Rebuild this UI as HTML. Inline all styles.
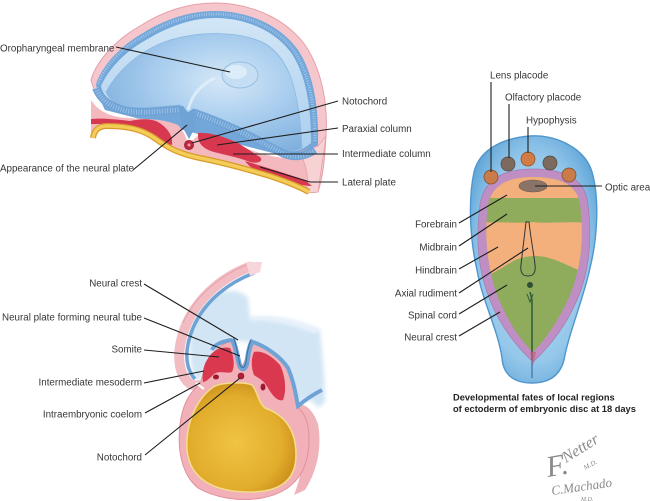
<!DOCTYPE html>
<html><head><meta charset="utf-8">
<style>
html,body{margin:0;padding:0;background:#fff;}
svg{display:block;}
text{font-family:"Liberation Sans",sans-serif;font-size:9.8px;fill:#363636;}
text.cap{font-weight:bold;font-size:9.3px;fill:#222;}
.ln{stroke:#1e1e1e;stroke-width:1.1;fill:none;}
text.sig{font-family:"Liberation Serif",serif;font-style:italic;fill:#8a8a8a;}
</style></head><body>
<svg width="650" height="501" viewBox="0 0 650 501" xmlns="http://www.w3.org/2000/svg">
<defs>
  <radialGradient id="dome" cx="0.6" cy="0.4" r="0.7">
    <stop offset="0" stop-color="#d6e8f7"/>
    <stop offset="0.5" stop-color="#a8cdee"/>
    <stop offset="1" stop-color="#7eaedd"/>
  </radialGradient>
  <linearGradient id="wall" x1="0" y1="0" x2="0" y2="1">
    <stop offset="0" stop-color="#d2e6f6"/>
    <stop offset="1" stop-color="#aacfee"/>
  </linearGradient>
  <radialGradient id="yolk" cx="0.45" cy="0.55" r="0.6">
    <stop offset="0" stop-color="#f0c444"/>
    <stop offset="0.7" stop-color="#e2ad2c"/>
    <stop offset="1" stop-color="#c98c1a"/>
  </radialGradient>
  <radialGradient id="rblue" cx="0.5" cy="0.5" r="0.6">
    <stop offset="0" stop-color="#bfe0f4"/>
    <stop offset="0.7" stop-color="#94c7ea"/>
    <stop offset="1" stop-color="#5ea4d7"/>
  </radialGradient>
  <filter id="soft" x="-10%" y="-10%" width="120%" height="120%">
    <feGaussianBlur stdDeviation="2"/>
  </filter>
  <clipPath id="brain">
    <path d="M533,177 C562,177 578,186 580,205 C584,235 582,265 570,295 C558,322 545,340 533,352 C520,340 508,322 497,295 C487,265 484,235 488,205 C492,186 506,177 533,177 Z"/>
  </clipPath>
</defs>

<!-- ================= TOP DIAGRAM ================= -->
<path d="M91,80 C96,62 115,40 140,26 C165,10 190,3 215,3 C250,3 285,18 305,45 C322,70 328,105 326,135 C325,160 322,180 318,192 L305,193 L300,150 L110,110 C100,102 94,92 91,80 Z" fill="#f5c6cb" stroke="#e6a0aa" stroke-width="1"/>
<path d="M96,84 C102,66 120,46 143,33 C167,18 192,11 215,11 C248,11 280,25 298,50 C313,73 319,105 318,145 L300,160 L105,110 C100,100 97,92 96,84 Z" fill="#74a7d9"/>
<path d="M98,84 C104,67 121,48 144,36 C168,21 192,14 215,14 C247,14 278,28 295,52 C309,74 315,105 315,142" fill="none" stroke="#a9cbec" stroke-width="3" stroke-dasharray="0.8 1.6"/>
<path d="M101,86 C108,70 124,52 146,40 C169,26 193,18 215,18 C246,18 276,31 292,54 C306,76 311,105 311,143 C300,152 292,154 280,148 C250,130 215,116 195,109 L187,113 L180,105 C165,106 145,109 125,107 C110,104 103,96 101,86 Z" fill="url(#wall)"/>
<path d="M106,92 C118,70 140,50 170,40 C200,31 240,31 264,43 C287,56 299,85 302,148 C292,153 285,152 278,147 C250,130 215,116 195,109 L187,113 L180,105 C165,106 145,109 125,107 C115,104 109,99 106,92 Z" fill="url(#dome)" stroke="#8db8e0" stroke-width="0.8"/>
<path d="M188,110 C192,95 200,85 215,78" fill="none" stroke="#e4f0fa" stroke-width="3" opacity="0.8"/>
<ellipse cx="240" cy="75" rx="18" ry="13" fill="#c5def3" stroke="#98bfe3" stroke-width="1"/>
<ellipse cx="236" cy="72" rx="11" ry="7" fill="#dcecf8"/>

<!-- cut face -->
<path d="M91,100 C96,108 104,114 118,117 C140,120 160,117 178,125 C183,130 185,136 187,140 L193,140 C200,132 212,134 230,142 C255,152 285,165 316,154 L324,150 L318,192 L306,193 C290,185 270,177 250,171 C230,165 212,161 196,157 C180,153 168,146 156,139 C140,130 125,126 106,126 C98,127 93,132 91,136 Z" fill="#f4b9be"/>
<path d="M300,152 L318,146 L326,136 L318,192 L306,193 C310,180 306,165 300,152 Z" fill="#f7d2d5" stroke="#e6a0aa" stroke-width="0.8"/>
<path d="M96,88 C101,100 110,107 127,111 C148,114 165,110 181,110 L187,118 L194,113 C215,120 250,135 280,152 C292,158 302,158 315,150" fill="none" stroke="#6fa3d6" stroke-width="8"/>
<path d="M96,88 C101,100 110,107 127,111 C148,114 165,110 181,110 L187,118 L194,113 C215,120 250,135 280,152 C292,158 302,158 315,150" fill="none" stroke="#a3c6ea" stroke-width="5" stroke-dasharray="0.8 1.8"/>
<path d="M178,106 L188,113 L196,109 L195,128 L189,139 L183,128 Z" fill="#6fa3d6"/>
<path d="M91,119 C100,118 115,119 130,121 C140,119 150,118 158,122 C168,128 173,136 172,145 C165,144 160,140 154,137 C146,131 135,127 120,125 C108,124 97,124 91,124 Z" fill="#d8384f"/>
<path d="M198,133 C210,132 225,137 238,143 C246,148 252,152 260,157 C264,161 258,164 250,162 C240,158 230,156 218,153 C205,150 197,145 198,133 Z" fill="#d8384f"/>
<path d="M245,161 C265,167 285,173 305,180 L312,186 C300,186 285,181 270,177 C258,173 250,168 245,161 Z" fill="#d8384f"/>
<circle cx="189" cy="145" r="4.5" fill="#c0283f" stroke="#8a1a2a" stroke-width="0.8"/>
<circle cx="189" cy="145" r="1.5" fill="#f0a0a8"/>
<path d="M93,138 C94,130 99,126 107,126 C127,126 142,129 156,139 C168,148 180,154 200,158 C225,163 250,170 270,176 C285,181 298,186 309,192" fill="none" stroke="#d99a2c" stroke-width="6"/>
<path d="M93,138 C94,130 99,126 107,126 C127,126 142,129 156,139 C168,148 180,154 200,158 C225,163 250,170 270,176 C285,181 298,186 309,192" fill="none" stroke="#f3cd58" stroke-width="3.5"/>

<!-- top labels -->
<text x="0" y="51.5">Oropharyngeal membrane</text>
<path class="ln" d="M116,47 L230,72"/>
<text x="342" y="104.5">Notochord</text>
<path class="ln" d="M338,101 L192,143"/>
<text x="342" y="132">Paraxial column</text>
<path class="ln" d="M338,128 L217,145"/>
<text x="342" y="157">Intermediate column</text>
<path class="ln" d="M338,154 L233,154"/>
<text x="342" y="185.5">Lateral plate</text>
<path class="ln" d="M338,182 L310,182 L260,167"/>
<text x="0" y="171.5">Appearance of the neural plate</text>
<path class="ln" d="M133,170 L187,125"/>

<!-- ================= BOTTOM-LEFT DIAGRAM ================= -->
<path d="M190,330 C195,310 205,298 220,292 C232,289 242,291 248,298 L250,318 C270,315 295,320 320,330 C323,360 325,385 325,402 L318,408 C312,400 305,395 298,405 C292,385 288,372 280,362 C270,352 260,346 254,343 L232,340 C220,344 210,355 205,372 L198,382 C192,375 188,355 190,330 Z" fill="#d2e5f5" filter="url(#soft)"/>
<path d="M250,318 C270,316 295,322 318,332" fill="none" stroke="#eaf3fb" stroke-width="5" filter="url(#soft)"/>
<!-- amnion arc -->
<path d="M252,266 C226,275 199,295 186,325 C176,350 177,372 189,383 C193,386 197,386 201,385" fill="none" stroke="#f2bcc3" stroke-width="10"/>
<path d="M252,263 C226,272 197,292 183,323" fill="none" stroke="#e7a3ad" stroke-width="1"/>
<path d="M254,273 C230,282 205,300 193,328 C184,350 185,368 195,379" fill="none" stroke="#6fa3d6" stroke-width="3.5"/>
<path d="M246,262 L262,262 L260,272 L250,276 Z" fill="#f7d6d9"/>
<!-- body -->
<path d="M296,405 C306,402 314,412 318,424 C322,445 318,470 305,490 L294,495 C304,470 307,440 300,410 Z" fill="#f0b3ba"/>
<path d="M200,384 C204,370 210,352 222,345 L232,340 C236,350 238,362 242,366 C246,362 248,350 252,341 C262,344 280,355 290,370 C295,385 297,400 300,410 C306,415 309,425 309,440 C309,470 295,492 262,498 C240,502 215,498 198,488 C182,475 177,450 180,425 C182,405 190,392 200,384 Z" fill="#f2b0b8" stroke="#e0909b" stroke-width="1"/>
<path d="M253,342 C265,346 280,356 288,368 C294,382 296,396 298,406 C305,400 314,394 322,390" fill="none" stroke="#6fa3d6" stroke-width="4"/>
<path d="M232,340 C222,341 214,345 212,350" fill="none" stroke="#6fa3d6" stroke-width="4"/>
<path d="M207,360 C212,350 222,346 230,348 C234,356 235,366 232,372 C226,374 220,370 214,374 C210,378 206,382 203,382 C202,375 203,366 207,360 Z" fill="#d9384f"/>
<path d="M254,352 C262,350 272,356 280,365 C285,375 287,390 283,400 C278,402 272,395 268,388 C264,380 258,378 254,375 C251,368 251,358 254,352 Z" fill="#d9384f"/>
<path d="M232,339 C236,345 237,358 240,366 C242,371 246,369 247,362 C248,355 249,346 253,340" fill="none" stroke="#6fa3d6" stroke-width="5"/>
<path d="M234,339 C237,346 238,358 240,365 C242,369 245,368 246,362 C247,355 248,346 251,340" fill="none" stroke="#3d6f9e" stroke-width="1"/>
<ellipse cx="216" cy="377" rx="3" ry="2.5" fill="#a0182e"/>
<circle cx="241" cy="376" r="3" fill="#b0203a" stroke="#7a1020" stroke-width="0.6"/>
<ellipse cx="263" cy="387" rx="2.5" ry="3.5" fill="#a0182e"/>
<path d="M196,383 L204,389" stroke="#fff" stroke-width="2.2"/>
<!-- yolk -->
<path d="M215,386 C225,382 245,382 252,385 C258,392 258,402 265,408 C285,415 296,430 296,455 C296,480 280,492 250,492 C215,492 190,480 187,450 C185,420 200,395 215,386 Z" fill="url(#yolk)" stroke="#f3dc8a" stroke-width="1.6"/>

<!-- bottom labels -->
<g text-anchor="end">
<text x="142" y="286.5">Neural crest</text>
<text x="142" y="320.5">Neural plate forming neural tube</text>
<text x="142" y="352.5">Somite</text>
<text x="142" y="385.5">Intermediate mesoderm</text>
<text x="142" y="417.5">Intraembryonic coelom</text>
<text x="142" y="460.5">Notochord</text>
</g>
<path class="ln" d="M144,284 L238,340"/>
<path class="ln" d="M144,318 L240,356"/>
<path class="ln" d="M144,350 L219,357"/>
<path class="ln" d="M144,383 L204,371"/>
<path class="ln" d="M145,413 L200,383"/>
<path class="ln" d="M145,455 L240,378"/>

<!-- ================= RIGHT DIAGRAM ================= -->
<path d="M530,136 C555,134 585,148 592,172 C600,200 597,240 590,268 C583,300 570,330 565,355 C562,375 550,383 532,383 C512,383 503,373 502,358 C498,330 482,300 477,270 C470,240 468,200 474,172 C480,148 505,138 530,136 Z" fill="url(#rblue)" stroke="#4f96cf" stroke-width="1.4"/>
<path d="M533,169 C566,169 586,180 588,205 C592,238 590,270 577,300 C565,328 548,348 533,362 C518,348 501,328 490,300 C477,268 476,238 480,205 C484,180 502,169 533,169 Z" fill="#bf8fc4" stroke="#a77bb0" stroke-width="0.8"/>
<g clip-path="url(#brain)">
  <rect x="480" y="170" width="110" height="200" fill="#8fab5c"/>
  <rect x="480" y="170" width="110" height="28" fill="#f4b07c"/>
  <path d="M480,223 C500,221 520,224 533,222 C548,224 565,221 590,223 L590,274 C575,270 560,260 545,257 C535,255 525,256 515,260 C505,266 492,275 480,278 Z" fill="#f4b07c"/>
</g>
<path d="M526,222 C524,240 522,255 521,265 C520,273 523,276 528,276 C533,276 536,273 535,265 C534,255 531,240 529,222 Z" fill="none" stroke="#333" stroke-width="1"/>
<circle cx="530" cy="285" r="3" fill="#2e4f35"/>
<path d="M530,292 L532,300 L532,360" stroke="#2d5a3a" stroke-width="1.5" fill="none"/>
<path d="M527,294 L530,302 L533,294" stroke="#2d5a3a" stroke-width="1" fill="none"/>
<path d="M532,360 L532,378" stroke="#3b6fa6" stroke-width="1.2"/>
<path d="M530,352 L533,366 L536,352" fill="#c4607a" opacity="0.7"/>
<ellipse cx="533" cy="186" rx="14" ry="6" fill="#8a7468" stroke="#6b5a50" stroke-width="0.6"/>
<circle cx="491" cy="177" r="7" fill="#c97c4a" stroke="#7a4a2a" stroke-width="0.7"/>
<circle cx="508" cy="164" r="7" fill="#7d6a5e" stroke="#55463c" stroke-width="0.7"/>
<circle cx="528" cy="159" r="7" fill="#d27c45" stroke="#8a4a22" stroke-width="0.7"/>
<circle cx="550" cy="163" r="7" fill="#7d6a5e" stroke="#55463c" stroke-width="0.7"/>
<circle cx="569" cy="175" r="7" fill="#c97c4a" stroke="#7a4a2a" stroke-width="0.7"/>

<!-- right labels -->
<text x="490" y="78.5">Lens placode</text>
<path class="ln" d="M491,82 L491,172"/>
<text x="505" y="100.5">Olfactory placode</text>
<path class="ln" d="M509,104 L509,158"/>
<text x="526" y="123.5">Hypophysis</text>
<path class="ln" d="M528,127 L528,153"/>
<text x="605" y="190.5">Optic area</text>
<path class="ln" d="M535,186 L602,186"/>
<g text-anchor="end">
<text x="457" y="227.5">Forebrain</text>
<text x="457" y="250.5">Midbrain</text>
<text x="457" y="273.5">Hindbrain</text>
<text x="457" y="296.5">Axial rudiment</text>
<text x="457" y="318.5">Spinal cord</text>
<text x="457" y="340.5">Neural crest</text>
</g>
<path class="ln" d="M459,223 L507,195"/>
<path class="ln" d="M459,246 L507,214"/>
<path class="ln" d="M459,269 L498,247"/>
<path class="ln" d="M459,293 L528,248"/>
<path class="ln" d="M459,314 L507,285"/>
<path class="ln" d="M459,336 L500,312"/>

<text class="cap" x="453" y="400.5">Developmental fates of local regions</text>
<text class="cap" x="453" y="412">of ectoderm of embryonic disc at 18 days</text>

<!-- signatures -->
<text class="sig" x="548" y="477" style="font-size:30px" transform="rotate(-10 548 477)">F.</text>
<text class="sig" x="566" y="463" style="font-size:16px" transform="rotate(-32 566 463)">Netter</text>
<text class="sig" x="585" y="470" style="font-size:7px" transform="rotate(-28 585 470)">M.D.</text>
<text class="sig" x="552" y="495" style="font-size:13px" transform="rotate(-8 552 495)">C.Machado</text>
<text class="sig" x="581" y="501" style="font-size:6px">M.D.</text>
</svg>
</body></html>
